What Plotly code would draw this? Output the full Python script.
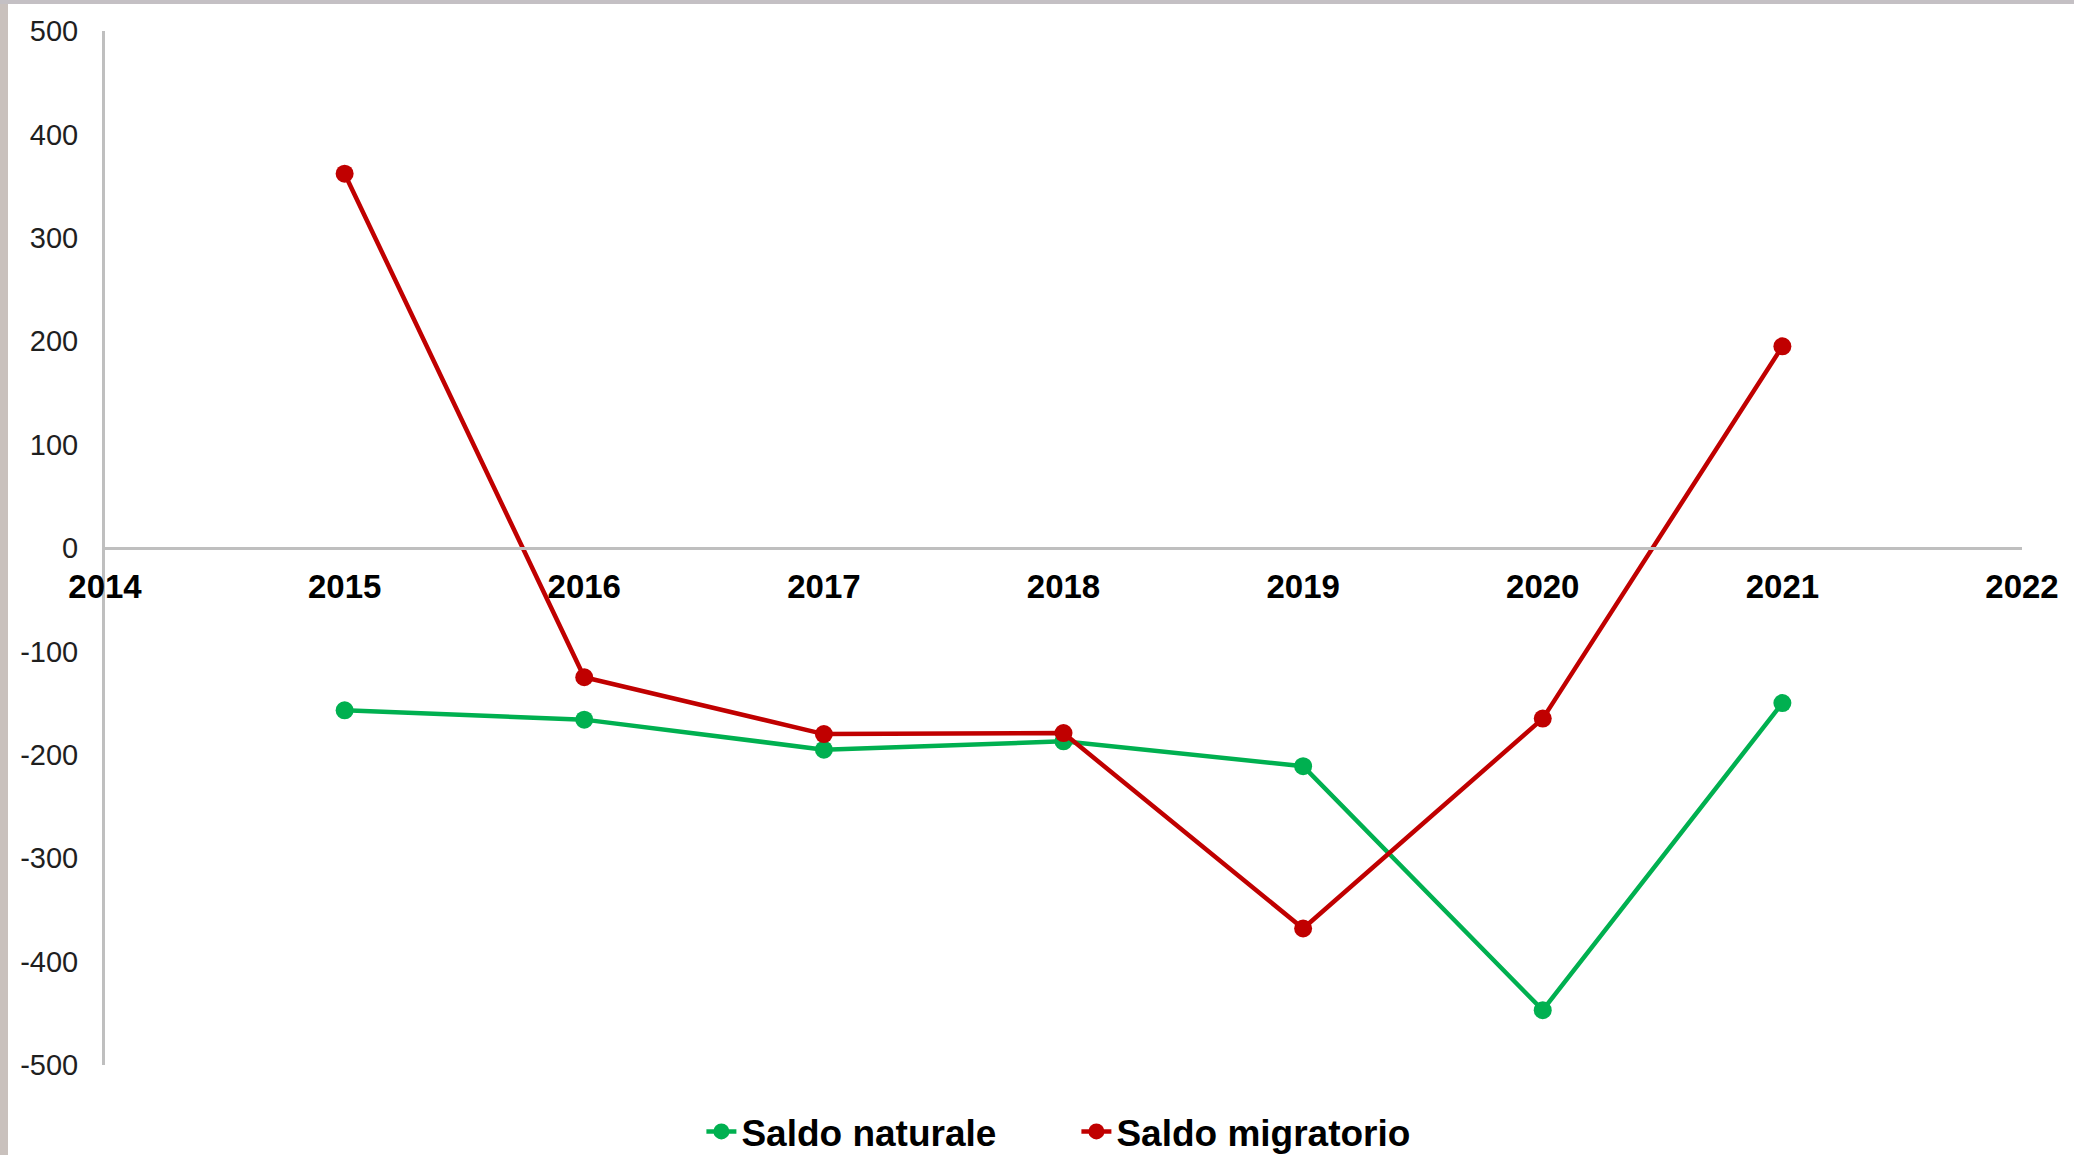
import plotly.graph_objects as go

years = [2015, 2016, 2017, 2018, 2019, 2020, 2021]
saldo_naturale = [-157, -166, -195, -187, -211, -447, -150]
saldo_migratorio = [362, -125, -180, -179, -368, -165, 195]
x_ticks = [2014, 2015, 2016, 2017, 2018, 2019, 2020, 2021, 2022]
y_ticks = [-500, -400, -300, -200, -100, 0, 100, 200, 300, 400, 500]

GREEN = "#00B050"
RED = "#C00000"
SANS = "Liberation Sans, Arial, sans-serif"

W, H = 2074, 1155
ML, MR, MT, MB = 105, 52, 31, 90
PW, PH = W - ML - MR, H - MT - MB

fig = go.Figure()
fig.add_trace(go.Scatter(
    x=years, y=saldo_naturale, mode="lines+markers", name="Saldo naturale",
    line=dict(color=GREEN, width=4.5), marker=dict(color=GREEN, size=18),
))
fig.add_trace(go.Scatter(
    x=years, y=saldo_migratorio, mode="lines+markers", name="Saldo migratorio",
    line=dict(color=RED, width=4.5), marker=dict(color=RED, size=18),
))

fig.update_layout(
    width=W, height=H,
    margin=dict(l=ML, r=MR, t=MT, b=MB, autoexpand=False),
    paper_bgcolor="white", plot_bgcolor="white",
    showlegend=True,
    legend=dict(
        orientation="h", xref="container", yref="container",
        x=0.519, xanchor="center", y=0.02, yanchor="middle",
        font=dict(family=SANS, size=37, color="black", weight="bold"),
        bgcolor="rgba(0,0,0,0)", entrywidth=330,
    ),
    xaxis=dict(
        range=[2014, 2022], tickmode="array", tickvals=x_ticks,
        ticktext=[str(t) for t in x_ticks],
        showgrid=False, zeroline=False,
        showline=True, linecolor="#BFBFBF", linewidth=3,
        anchor="free", position=0.5, ticks="", ticklabelstandoff=8,
        tickfont=dict(family=SANS, size=33, color="black", weight="bold"),
    ),
    yaxis=dict(
        range=[-500, 500], tickmode="array", tickvals=y_ticks,
        ticktext=[str(t) for t in y_ticks],
        showgrid=False, zeroline=False,
        showline=True, linecolor="#BFBFBF", linewidth=3,
        ticks="", ticklabelstandoff=18,
        tickfont=dict(family=SANS, size=29, color="#1F1F1F"),
    ),
    shapes=[
        dict(type="rect", xref="paper", yref="paper", x0=-ML / PW, x1=(8 - ML) / PW,
             y0=-MB / PH, y1=1 + MT / PH, fillcolor="#C9C1BD", line=dict(width=0), layer="below"),
        dict(type="rect", xref="paper", yref="paper", x0=-ML / PW, x1=1 + MR / PW,
             y0=1 + (MT - 4) / PH, y1=1 + MT / PH, fillcolor="#C4C0C4", line=dict(width=0), layer="below"),
    ],
)

fig.write_html("out.html", config={"displayModeBar": False},
               post_script="document.body.style.margin='0';")
